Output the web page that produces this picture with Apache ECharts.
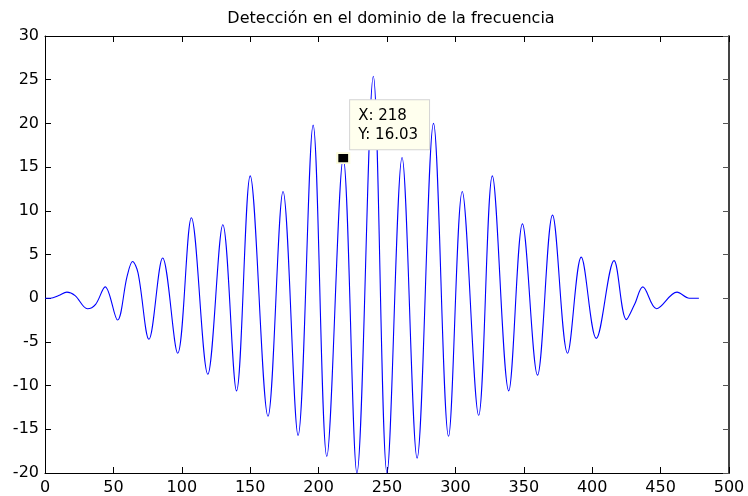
<!DOCTYPE html>
<html lang="es">
<head>
    <meta charset="UTF-8">
    <title>Detección en el dominio de la frecuencia</title>
    <script src="https://cdn.jsdelivr.net/npm/echarts@6/dist/echarts.min.js"></script>
    <style>
        html, body { margin: 0; padding: 0; background: #fff; }
    </style>
</head>
<body>
<div id="chart" style="width:748px;height:496px;"></div>
<script type="text/javascript">

    // muestras (x = muestra, y = amplitud)
    var muestras = [0, 4, 10, 16, 22, 31, 37, 44, 53, 60, 64, 68, 76, 86, 97, 107, 119, 130, 140, 150, 163, 174, 185, 196, 206, 218, 228, 240, 250, 261, 272, 284, 295, 305, 317, 327, 339, 349, 360, 371, 382, 392, 403, 416, 425, 431, 437, 447, 462, 471, 478];
    var amplitud = [0, 0, 0.3, 0.7, 0.3, -1.2, -0.7, 1.3, -2.5, 2.5, 4.2, 2.9, -4.7, 4.6, -6.3, 9.2, -8.7, 8.4, -10.6, 14, -13.5, 12.2, -15.7, 19.8, -18.1, 16.03, -20, 25.4, -20, 16.1, -18.3, 20, -15.8, 12.2, -13.4, 14, -10.6, 8.5, -8.8, 9.5, -6.3, 4.7, -4.6, 4.3, -2.45, -0.7, 1.3, -1.2, 0.7, 0, 0];

    var xTicks = [0, 500, 50];      // min, max, paso
    var yTicks = [-20, 30, 5];

    var cursorX = 218;
    var cursorY = 16.03;

    var datos = [];
    for (var i = 0; i < muestras.length; i++) {
        datos.push([muestras[i], amplitud[i]]);
    }

    var fuente = 'DejaVu Sans';

    var myChart = echarts.init(document.getElementById('chart'));

    var ejeX = {
        type: 'value',
        min: xTicks[0],
        max: xTicks[1],
        interval: xTicks[2],
        axisLine: { show: true, onZero: false, lineStyle: { color: '#000', width: 1 } },
        axisTick: { show: true, inside: true, length: 6, lineStyle: { color: '#000' } },
        splitLine: { show: false }
    };

    var ejeY = {
        type: 'value',
        min: yTicks[0],
        max: yTicks[1],
        interval: yTicks[2],
        axisLine: { show: true, onZero: false, lineStyle: { color: '#000', width: 1 } },
        axisTick: { show: true, inside: true, length: 6, lineStyle: { color: '#000' } },
        splitLine: { show: false }
    };

    option = {
        animation: false,
        backgroundColor: '#fff',
        title: {
            text: 'Detección en el dominio de la frecuencia',
            left: 386,
            top: 6,
            textAlign: 'center',
            textStyle: { fontFamily: fuente, fontSize: 16, fontWeight: 'normal', color: '#000' }
        },
        grid: { left: 45, right: 19, top: 36, bottom: 22 },
        xAxis: [
            echarts.util.merge({
                position: 'bottom',
                axisLabel: { fontFamily: fuente, fontSize: 16, color: '#000', margin: 7 }
            }, ejeX, true),
            echarts.util.merge({
                position: 'top',
                axisLabel: { show: false }
            }, ejeX, true)
        ],
        yAxis: [
            echarts.util.merge({
                position: 'left',
                axisLabel: { fontFamily: fuente, fontSize: 16, color: '#000', margin: 6 }
            }, ejeY, true),
            {
                type: 'value',
                position: 'right',
                min: yTicks[0],
                max: yTicks[1],
                interval: yTicks[2],
                axisLine: { show: true, onZero: false, lineStyle: { color: '#444', width: 2 } },
                axisTick: { show: true, inside: true, length: 6, lineStyle: { color: '#555' } },
                axisLabel: { show: false },
                splitLine: { show: false }
            }
        ],
        series: [
            {
                name: 'señal',
                type: 'line',
                data: datos,
                smooth: 0.35,
                symbol: 'none',
                lineStyle: { color: '#0000ff', width: 1.1 },
                markPoint: {
                    symbol: 'rect',
                    symbolSize: [12, 10],
                    itemStyle: { color: '#000', borderColor: '#fcfcdc', borderWidth: 2 },
                    label: {
                        show: true,
                        position: [14, -52],
                        formatter: 'X: ' + cursorX + '\nY: ' + cursorY,
                        fontFamily: fuente,
                        fontSize: 15,
                        lineHeight: 19,
                        color: '#000',
                        align: 'left',
                        backgroundColor: '#ffffee',
                        borderColor: '#d4d4d4',
                        borderWidth: 1,
                        padding: [6, 11, 5, 8]
                    },
                    data: [{ coord: [cursorX, cursorY] }]
                }
            }
        ]
    };

    myChart.setOption(option);

</script>
</body>
</html>
